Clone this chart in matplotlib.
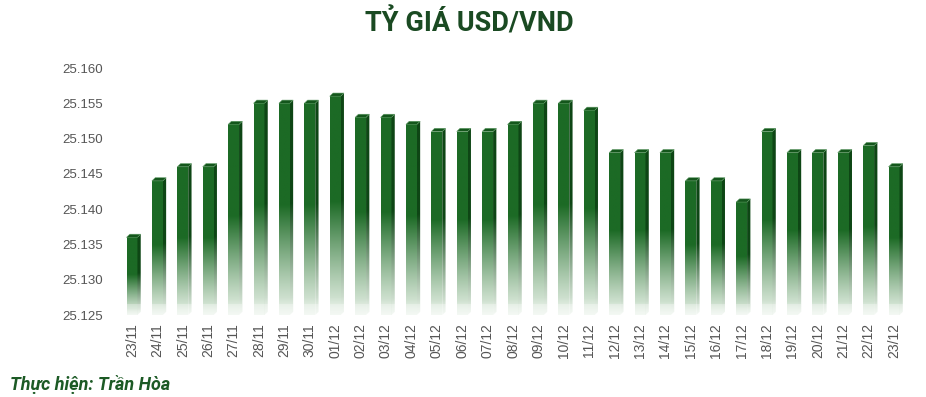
import numpy as np
import matplotlib
matplotlib.use("Agg")
import matplotlib.pyplot as plt
from matplotlib.patches import Polygon, Rectangle
from matplotlib.ticker import FuncFormatter, MultipleLocator

dates = ["23/11", "24/11", "25/11", "26/11", "27/11", "28/11", "29/11", "30/11",
         "01/12", "02/12", "03/12", "04/12", "05/12", "06/12", "07/12", "08/12",
         "09/12", "10/12", "11/12", "12/12", "13/12", "14/12", "15/12", "16/12",
         "17/12", "18/12", "19/12", "20/12", "21/12", "22/12", "23/12"]
rates = [25136, 25144, 25146, 25146, 25152, 25155, 25155, 25155,
         25156, 25153, 25153, 25152, 25151, 25151, 25151, 25152,
         25155, 25155, 25154, 25148, 25148, 25148, 25144, 25144,
         25141, 25151, 25148, 25148, 25148, 25149, 25146]

Y_MIN, Y_MAX = 25125, 25160

fig = plt.figure(figsize=(9.26, 3.97), dpi=100)
ax = fig.add_axes([118/926, (397-315)/397, (908-118)/926, (315-68)/397])

x = np.arange(len(dates))
bars = ax.bar(x, [r - Y_MIN for r in rates], bottom=Y_MIN, width=0.43,
              color="none", edgecolor="none")

front = np.array([0x1c, 0x6a, 0x25]) / 255
side = np.array([0x0e, 0x46, 0x15]) / 255
light = np.array([0xe2, 0xee, 0xe2]) / 255


def grad_img(col, n=200):
    f = np.linspace(0, 1, n)[:, None]  # 0 bottom -> 1 top
    t = np.clip(f / 0.52, 0, 1) ** 1.2
    rgb = light[None, :] * (1 - t) + col[None, :] * t
    a = np.clip(0.55 + 0.45 * np.clip(f / 0.08, 0, 1), 0, 1)
    img = np.concatenate([rgb, a], axis=1)[::-1]
    return img[:, None, :]


dx = 0.13
dy = 0.45
for b in bars:
    x0 = b.get_x()
    w = b.get_width()
    y0 = b.get_y()
    top = y0 + b.get_height()
    im = ax.imshow(grad_img(front), extent=[x0, x0 + w, y0, top],
                   aspect="auto", interpolation="bilinear", zorder=3)
    rect = Rectangle((x0, y0), w, top - y0, transform=ax.transData)
    im.set_clip_path(rect)
    sp = Polygon([(x0 + w, y0), (x0 + w + dx, y0 + dy), (x0 + w + dx, top + dy),
                  (x0 + w, top)], closed=True, transform=ax.transData)
    im2 = ax.imshow(grad_img(side), extent=[x0 + w, x0 + w + dx, y0, top + dy],
                    aspect="auto", interpolation="bilinear", zorder=3)
    im2.set_clip_path(sp)
    ax.add_patch(Polygon([(x0, top), (x0 + dx, top + dy), (x0 + w + dx, top + dy),
                          (x0 + w, top)], closed=True, facecolor="#14561c",
                         edgecolor="#5d9a63", linewidth=0.4, zorder=4, clip_on=False))
    ax.add_patch(Rectangle((x0, y0), w + dx, 1.6, facecolor="white", alpha=0.3,
                           edgecolor="none", zorder=4))

ax.set_xlim(-0.55, len(dates) - 0.45)
ax.set_ylim(Y_MIN, Y_MAX)
ax.yaxis.set_major_locator(MultipleLocator(5))
ax.yaxis.set_major_formatter(FuncFormatter(lambda v, p: f"{v:,.0f}".replace(",", ".")))
ax.set_xticks(x)
ax.set_xticklabels(dates, rotation=90)
for s in ax.spines.values():
    s.set_visible(False)
ax.tick_params(axis="y", length=0, pad=11, labelsize=9.5, labelcolor="#555555")
ax.tick_params(axis="x", length=0, pad=6, labelsize=10, labelcolor="#555555")
for lab in ax.get_xticklabels() + ax.get_yticklabels():
    lab.set_fontfamily("Liberation Sans")

fig.text(469/926, 1 - 23/397, "TỶ GIÁ USD/VND", ha="center", va="center",
         fontsize=19.5, fontweight="bold", color="#1a4a22", family="Roboto")
fig.text(10/926, 1 - 385/397, "Thực hiện: Trần Hòa", ha="left", va="center",
         fontsize=13, fontweight="bold", fontstyle="italic", color="#1c5a25",
         family="Roboto")

fig.savefig("out.png", dpi=100)
